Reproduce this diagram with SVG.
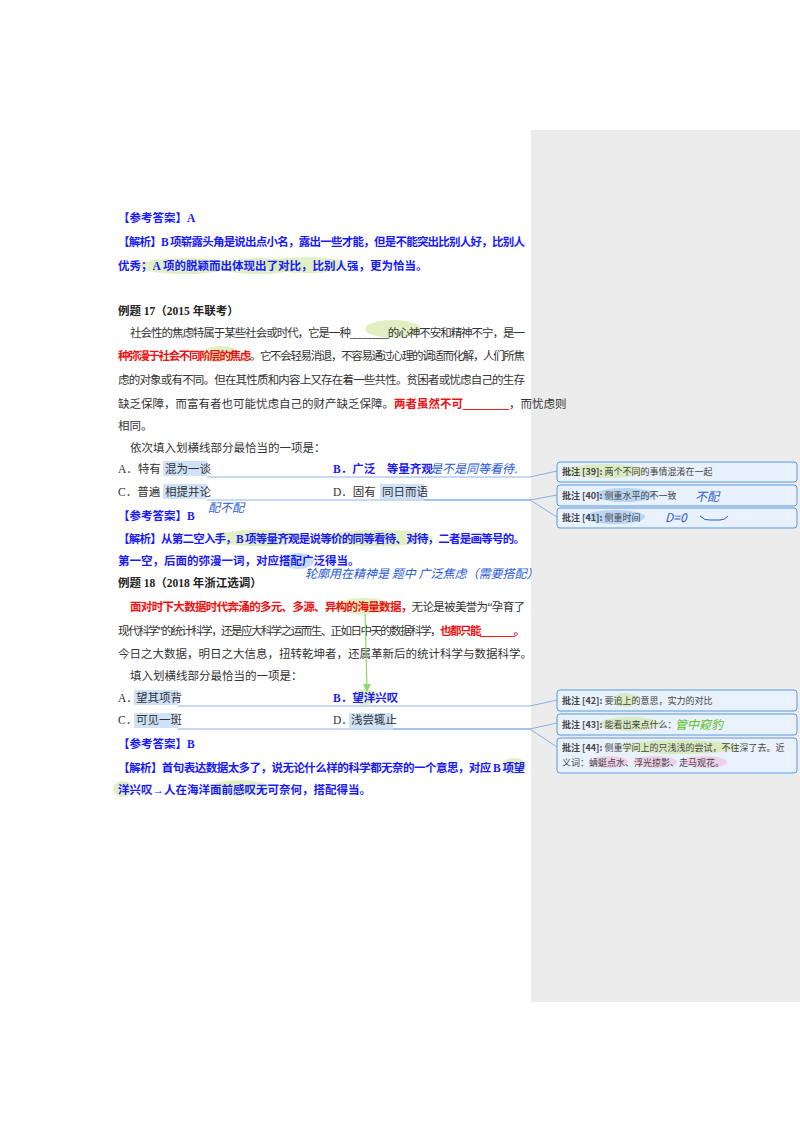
<svg xmlns="http://www.w3.org/2000/svg" width="800" height="1132" viewBox="0 0 800 1132">
<style>
text{font-family:"Liberation Serif","Noto Sans CJK SC",serif;font-size:11.5px;fill:#333}
.b{fill:#1a1aff;font-weight:bold}
.r{fill:#ee1111;font-weight:bold}
.k{fill:#222;font-weight:bold}
.hl{fill:#d4e8a8;opacity:.7}
.bl{fill:#cfe2f7}
.hw{fill:#2a5bd7;font-family:"Noto Sans CJK SC",sans-serif;font-size:12px;font-style:italic}
.cb{fill:#e8f1fc;stroke:#5a9be0;stroke-width:1}
.ct{font-family:"Noto Sans CJK SC",sans-serif;font-size:9px;fill:#444}
.ln{stroke:#6fa3dc;stroke-width:.8;fill:none}
</style>
<rect width="800" height="1132" fill="#fff"/>
<rect x="531" y="130" width="269" height="872" fill="#ececec"/>
<g id="highlights">
<ellipse cx="185" cy="266" rx="45" ry="8" class="hl"/><ellipse cx="258" cy="266" rx="40" ry="8" class="hl"/><ellipse cx="306" cy="265" rx="40" ry="8" class="hl"/>
<ellipse cx="393" cy="329" rx="28" ry="9" class="hl"/>
<ellipse cx="221" cy="354" rx="18" ry="8" class="hl"/>
<ellipse cx="258" cy="538" rx="45" ry="8" class="hl"/><ellipse cx="378" cy="538" rx="55" ry="8" class="hl"/>
<ellipse cx="298" cy="561" rx="16" ry="8" fill="#b8d6f3" opacity=".8"/>
<ellipse cx="363" cy="606" rx="27" ry="8" class="hl"/>
<ellipse cx="365" cy="697" rx="12" ry="8" class="hl"/>
<ellipse cx="514" cy="766" rx="12" ry="8" class="hl"/><ellipse cx="123" cy="789" rx="10" ry="8" class="hl"/><ellipse cx="240" cy="788" rx="30" ry="8" class="hl"/>
<rect x="163" y="461" width="44" height="15" class="bl"/><rect x="163" y="484" width="44" height="15" class="bl"/><rect x="380" y="484" width="44" height="15" class="bl"/>
<rect x="134" y="690" width="44" height="15" class="bl"/><rect x="134" y="713" width="44" height="15" class="bl"/><rect x="349" y="713" width="44" height="15" class="bl"/>
</g>
<g id="text">
<text x="118" y="222" class="b">【参考答案】A</text>
<text x="118" y="246" class="b" textLength="407" lengthAdjust="spacing">【解析】B 项崭露头角是说出点小名，露出一些才能，但是不能突出比别人好，比别人</text>
<text x="118" y="270" class="b">优秀；A 项的脱颖而出体现出了对比，比别人强，更为恰当。</text>
<text x="118" y="315" class="k">例题 17（2015 年联考）</text>
<text x="130" y="337" textLength="395" lengthAdjust="spacing">社会性的焦虑特属于某些社会或时代，它是一种________的心神不安和精神不宁，是一</text>
<text x="118" y="360" textLength="407" lengthAdjust="spacing"><tspan class="r">种弥漫于社会不同阶层的焦虑</tspan>。它不会轻易消退，不容易通过心理的调适而化解，人们所焦</text>
<text x="118" y="384" textLength="407" lengthAdjust="spacing">虑的对象或有不同。但在其性质和内容上又存在着一些共性。贫困者或忧虑自己的生存</text>
<text x="118" y="408">缺乏保障，而富有者也可能忧虑自己的财产缺乏保障。<tspan class="r">两者虽然不可________</tspan>，而忧虑则</text>
<text x="118" y="430">相同。</text>
<text x="130" y="452">依次填入划横线部分最恰当的一项是：</text>
<text x="118" y="473">A．特有</text><text x="165" y="473">混为一谈</text>
<text x="333" y="473" class="b">B．广泛　等量齐观</text>
<text x="118" y="496">C．普遍</text><text x="165" y="496">相提并论</text>
<text x="333" y="496">D．固有</text><text x="382" y="496">同日而语</text>
<text x="118" y="520" class="b">【参考答案】B</text>
<text x="118" y="543" class="b" textLength="407" lengthAdjust="spacing">【解析】从第二空入手，B 项等量齐观是说等价的同等看待、对待，二者是画等号的。</text>
<text x="118" y="565" class="b">第一空，后面的弥漫一词，对应搭配广泛得当。</text>
<text x="118" y="587" class="k">例题 18（2018 年浙江选调）</text>
<text x="130" y="611" textLength="395" lengthAdjust="spacing"><tspan class="r">面对时下大数据时代奔涌的多元、多源、异构的海量数据，</tspan>无论是被美誉为“孕育了</text>
<text x="118" y="635" textLength="407" lengthAdjust="spacing">现代科学”的统计科学，还是应大科学之运而生、正如日中天的数据科学，<tspan class="r">也都只能________。</tspan></text>
<text x="118" y="658">今日之大数据，明日之大信息，扭转乾坤者，还属革新后的统计科学与数据科学。</text>
<text x="130" y="680">填入划横线部分最恰当的一项是：</text>
<text x="118" y="702">A．</text><text x="136" y="702">望其项背</text>
<text x="333" y="702" class="b">B．望洋兴叹</text>
<text x="118" y="724">C．</text><text x="136" y="724">可见一斑</text>
<text x="333" y="724">D．</text><text x="351" y="724">浅尝辄止</text>
<text x="118" y="748" class="b">【参考答案】B</text>
<text x="118" y="772" class="b" textLength="407" lengthAdjust="spacing">【解析】首句表达数据太多了，说无论什么样的科学都无奈的一个意思，对应 B 项望</text>
<text x="118" y="794" class="b">洋兴叹→人在海洋面前感叹无可奈何，搭配得当。</text>
</g>
<g id="handwriting">
<text x="430" y="473" class="hw">是不是同等看待.</text>
<text x="208" y="512" class="hw" font-size="10">配不配</text>
<text x="305" y="578" class="hw" font-size="10">轮廓用在精神是 题中 广泛焦虑（需要搭配）</text>
</g>
<g id="connectors">
<polyline class="ln" points="207,477 530,477 557,471"/>
<polyline class="ln" points="207,500 530,500 557,495"/>
<polyline class="ln" points="424,500 530,500 557,517"/>
<polyline class="ln" points="178,706 530,706 557,700"/>
<polyline class="ln" points="178,729 530,729 557,723"/>
<polyline class="ln" points="393,729 530,729 557,747"/>
<line x1="365" y1="614" x2="367" y2="688" stroke="#8fd86a" stroke-width="1.2"/>
<polygon points="363,684 371,684 367,692" fill="#8fd86a"/>
</g>
<g id="c39"><rect x="557" y="462" width="240" height="20" rx="3" class="cb"/><ellipse cx="605" cy="471" rx="40" ry="7" class="hl"/><text x="562" y="475" class="ct"><tspan font-weight="bold">批注 [39]:</tspan> 两个不同的事情混淆在一起</text></g>
<g id="c40"><rect x="557" y="485" width="240" height="21" rx="3" class="cb"/><ellipse cx="625" cy="495" rx="30" ry="7" fill="#b8d6f3"/><text x="562" y="499" class="ct"><tspan font-weight="bold">批注 [40]:</tspan> 侧重水平的不一致</text><text x="695" y="501" class="hw">不配</text></g>
<g id="c41"><rect x="557" y="508" width="240" height="20" rx="3" class="cb"/><ellipse cx="615" cy="517" rx="30" ry="7" fill="#b8d6f3"/><text x="562" y="521" class="ct"><tspan font-weight="bold">批注 [41]:</tspan> 侧重时间</text><text x="665" y="522" class="hw" font-size="10">D=0</text><path d="M700,516 q5,5 10,4 h10 q5,0 8,-4" stroke="#2a5bd7" fill="none"/></g>
<g id="c42"><rect x="557" y="690" width="240" height="21" rx="3" class="cb"/><ellipse cx="625" cy="700" rx="12" ry="7" class="hl"/><text x="562" y="704" class="ct"><tspan font-weight="bold">批注 [42]:</tspan> 要追上的意思，实力的对比</text></g>
<g id="c43"><rect x="557" y="714" width="240" height="21" rx="3" class="cb"/><ellipse cx="630" cy="724" rx="30" ry="7" class="hl"/><text x="562" y="728" class="ct"><tspan font-weight="bold">批注 [43]:</tspan> 能看出来点什么：</text><text x="675" y="729" class="hw" style="fill:#5cc020">管中窥豹</text></g>
<g id="c44"><rect x="557" y="738" width="240" height="35" rx="3" class="cb"/><ellipse cx="680" cy="747" rx="60" ry="7" class="hl"/><ellipse cx="610" cy="762" rx="18" ry="6" fill="#efd0e8"/><ellipse cx="655" cy="762" rx="22" ry="6" fill="#efd0e8"/><ellipse cx="705" cy="762" rx="22" ry="6" fill="#efd0e8"/><text x="562" y="751" class="ct"><tspan font-weight="bold">批注 [44]:</tspan> 侧重学问上的只浅浅的尝试，不往深了去。近</text><text x="562" y="766" class="ct">义词：蜻蜓点水、浮光掠影、走马观花。</text></g>
</svg>
